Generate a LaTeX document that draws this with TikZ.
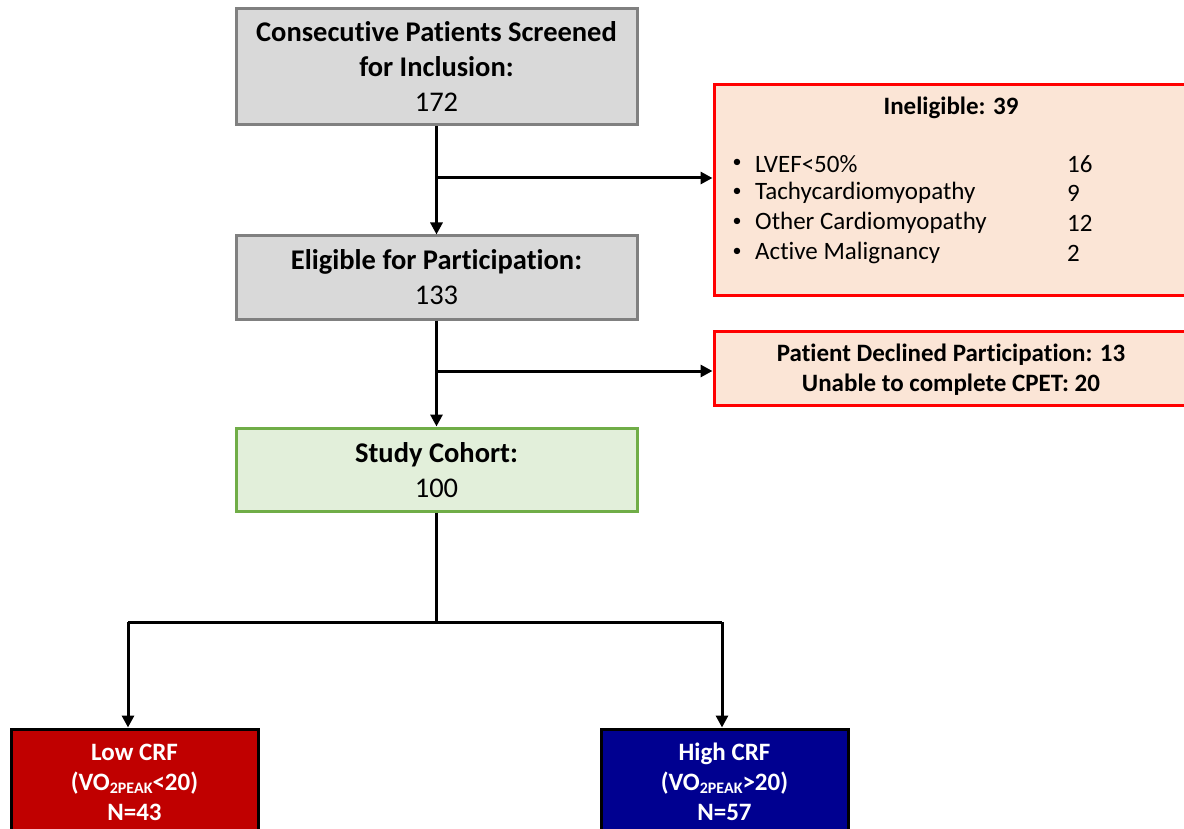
\documentclass[tikz,border=0pt]{standalone}
\usepackage{fontspec}
\setmainfont{Carlito}[Ligatures=NoCommon]
\usetikzlibrary{arrows.meta}
\definecolor{grayfill}{HTML}{D9D9D9}
\definecolor{grayline}{HTML}{808080}
\definecolor{greenfill}{HTML}{E2EFDA}
\definecolor{greenline}{HTML}{70AD47}
\definecolor{peachfill}{HTML}{FBE5D6}
\definecolor{redline}{HTML}{FF0000}
\definecolor{lowfill}{HTML}{C00000}
\definecolor{highfill}{HTML}{000090}
\newcommand{\vosub}[1]{VO\raisebox{-0.25ex}{\fontsize{16}{16}\selectfont 2PEAK}#1}
\tikzset{
  box/.style={draw, line width=3pt, inner sep=0pt, align=center, text depth=0pt},
  graybox/.style={box, fill=grayfill, draw=grayline, minimum width=401pt},
  greenbox/.style={box, fill=greenfill, draw=greenline, minimum width=401pt},
  peachbox/.style={box, fill=peachfill, draw=redline},
  groupbox/.style={box, draw=black, text=white, minimum width=247pt, minimum height=106pt},
  conn/.style={line width=3pt},
  arr/.style={conn, -{Triangle[length=12pt,width=12pt]}},
  bigtxt/.style={font=\fontsize{28.5}{35}\selectfont},
  smalltxt/.style={font=\fontsize{25}{30}\selectfont},
  listtxt/.style={font=\fontsize{25}{30}\selectfont, anchor=west, inner sep=0pt},
  bullettxt/.style={font=\fontsize{18}{30}\selectfont, inner sep=0pt}
}
\begin{document}
\begin{tikzpicture}[x=1pt,y=-1pt]
\useasboundingbox (0,0) rectangle (1184,829);
\clip (0,0) rectangle (1184,829);

% main column
\node[graybox, bigtxt, minimum height=116pt] (top) at (436.5,67)
  {\textbf{Consecutive Patients Screened}\\\textbf{for Inclusion:}\\172};
\node[graybox, bigtxt, minimum height=83pt] (elig) at (436.5,277.5)
  {\textbf{Eligible for Participation:}\\133};
\node[greenbox, bigtxt, minimum height=83pt] (cohort) at (436.5,469.5)
  {\textbf{Study Cohort:}\\100};

% exclusion boxes
\node[peachbox, minimum width=480pt, minimum height=211pt] (inel) at (954,190.5) {};
\node[smalltxt, inner sep=0pt] (ineltitle) at (951,108) {\textbf{Ineligible: 39}};
\node[bullettxt] (b1) at (737,163) {•};
\node[listtxt] (l1) at (755,164) {LVEF<50\%};
\node[listtxt] (n1) at (1067,164) {16};
\node[bullettxt] (b2) at (737,192) {•};
\node[listtxt] (l2) at (755,193) {Tachycardiomyopathy};
\node[listtxt] (n2) at (1067,193) {9};
\node[bullettxt] (b3) at (737,222) {•};
\node[listtxt] (l3) at (755,223) {Other Cardiomyopathy};
\node[listtxt] (n3) at (1067,223) {12};
\node[bullettxt] (b4) at (737,252) {•};
\node[listtxt] (l4) at (755,253) {Active Malignancy};
\node[listtxt] (n4) at (1067,253) {2};

\node[peachbox, minimum width=480pt, minimum height=74pt] (decl) at (954,368) {};
\node[smalltxt, align=center, inner sep=0pt] (decltxt) at (951,370)
  {\textbf{Patient Declined Participation: 13}\\\textbf{Unable to complete CPET: 20}};

% outcome groups
\node[groupbox, fill=lowfill, smalltxt] (low) at (134.5,782)
  {\textbf{Low CRF}\\\textbf{(\vosub{<20})}\\\textbf{N=43}};
\node[groupbox, fill=highfill, smalltxt] (high) at (724.5,782)
  {\textbf{High CRF}\\\textbf{(\vosub{>20})}\\\textbf{N=57}};

% connectors
\draw[arr] (top.south) -- (elig.north);
\coordinate (j1) at (436.5,178);
\draw[arr] (j1) -- (j1 -| inel.west);
\draw[arr] (elig.south) -- (cohort.north);
\coordinate (j2) at (436.5,371);
\draw[arr] (j2) -- (j2 -| decl.west);
\coordinate (split) at (436.5,622);
\coordinate (lc) at (128,622);
\coordinate (rc) at (722,622);
\draw[conn] (cohort.south) -- (split);
\draw[conn] (lc) -- (rc);
\draw[arr] (lc) -- (lc |- low.north);
\draw[arr] (rc) -- (rc |- high.north);
\end{tikzpicture}
\end{document}
